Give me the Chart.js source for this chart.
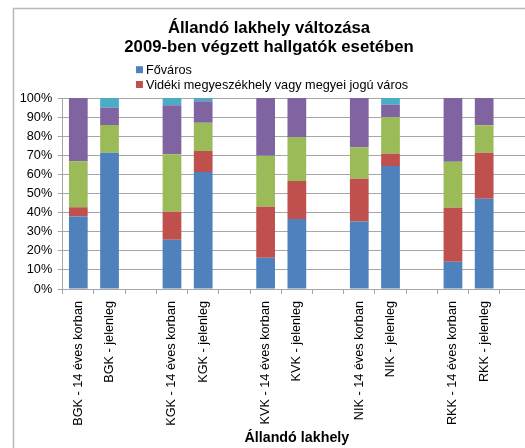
<!DOCTYPE html>
<html>
<head>
<meta charset="utf-8">
<script src="https://cdn.jsdelivr.net/npm/chart.js@4/dist/chart.umd.min.js"></script>
<style>
  html, body { margin: 0; padding: 0; background: #fff; overflow: hidden; }
  #wrap { position: relative; width: 545px; height: 448px; }
</style>
</head>
<body>
<div id="wrap"><canvas id="c" width="545" height="448"></canvas></div>
<script>
// ---- data ----
const categories = [
  'BGK - 14 éves korban', 'BGK - jelenleg', '',
  'KGK - 14 éves korban', 'KGK - jelenleg', '',
  'KVK - 14 éves korban', 'KVK - jelenleg', '',
  'NIK - 14 éves korban', 'NIK - jelenleg', '',
  'RKK - 14 éves korban', 'RKK - jelenleg', ''
];
const seriesNames = ['Főváros', 'Vidéki megyeszékhely vagy megyei jogú város', 'Egyéb város', 'Község', 'Külföld'];
const fovaros  = [38.0, 71.4, null, 25.8, 61.3, null, 16.4, 36.6, null, 35.4, 64.4, null, 14.3, 47.3, null];
const videki   = [ 4.8,  0.0, null, 14.7, 11.0, null, 26.7, 19.9, null, 22.3,  6.4, null, 28.3, 24.1, null];
const egyeb    = [24.1, 14.5, null, 30.0, 14.8, null, 26.7, 23.1, null, 16.5, 19.3, null, 24.0, 14.3, null];
const kozseg   = [33.1,  9.0, null, 25.7, 11.2, null, 30.2, 20.4, null, 25.8,  6.4, null, 33.4, 14.3, null];
const kulfold  = [ 0.0,  5.1, null,  3.8,  1.7, null,  0.0,  0.0, null,  0.0,  3.5, null,  0.0,  0.0, null];
const yTicks = [0, 10, 20, 30, 40, 50, 60, 70, 80, 90, 100];
const titleLines = ['Állandó lakhely változása', '2009-ben végzett hallgatók esetében'];
const xAxisTitle = 'Állandó lakhely';

const colors = ['#4F81BD', '#C0504D', '#9BBB59', '#8064A2', '#4BACC6'];
const seriesData = [fovaros, videki, egyeb, kozseg, kulfold];
const legendCount = 2; // only the first two legend entries are visible in the reference

const FONT = "'Liberation Sans', Arial, sans-serif";
const GRID = '#a6a6a6';

const framePlugin = {
  id: 'frame',
  beforeDraw(chart) {
    const ctx = chart.ctx;
    ctx.save();
    ctx.fillStyle = '#fff';
    ctx.fillRect(0, 0, chart.width, chart.height);
    ctx.strokeStyle = '#b8b8b8';
    ctx.lineWidth = 1.5;
    ctx.strokeRect(13.5, 8.5, chart.width + 50, chart.height + 50);
    ctx.restore();
  }
};

const legendPlugin = {
  id: 'stackLegend',
  afterDraw(chart) {
    const ctx = chart.ctx;
    const t = chart.titleBlock;
    ctx.save();
    ctx.font = '12.7px ' + FONT;
    ctx.textBaseline = 'middle';
    ctx.textAlign = 'left';
    const items = chart.data.datasets.slice(0, legendCount);
    const box = 7, gap = 3;
    let maxW = 0;
    items.forEach(d => { maxW = Math.max(maxW, ctx.measureText(d.label).width); });
    const blockW = box + gap + maxW;
    const cx = (t.left + t.right) / 2 + 3;
    const left = cx - blockW / 2;
    const rowTop = t.top + 69.7;
    const rowH = 14.8;
    items.forEach((d, i) => {
      const y = rowTop + i * rowH;
      ctx.fillStyle = d.backgroundColor;
      ctx.fillRect(left, y - box / 2, box, box);
      ctx.fillStyle = '#000';
      ctx.fillText(d.label, left + box + gap, y + 0.5);
    });
    ctx.restore();
  }
};

new Chart(document.getElementById('c'), {
  type: 'bar',
  data: {
    labels: categories,
    datasets: seriesData.map((arr, i) => ({
      label: seriesNames[i],
      data: arr,
      backgroundColor: colors[i],
      borderWidth: 0,
      categoryPercentage: 1.0,
      barPercentage: 0.6
    }))
  },
  options: {
    responsive: false,
    animation: false,
    layout: { padding: { left: 7, right: 14, top: 0, bottom: 0 } },
    plugins: {
      legend: { display: false },
      tooltip: { enabled: false },
      title: {
        display: true,
        text: titleLines,
        color: '#000',
        font: { family: FONT, size: 16.7, weight: 'bold', lineHeight: 1.15 },
        padding: { top: 18.4, bottom: 41.2 }
      }
    },
    scales: {
      x: {
        stacked: true,
        grid: { display: true, drawOnChartArea: false, drawTicks: true, tickLength: 5, offset: true, color: GRID },
        border: { display: true, color: GRID, width: 1 },
        ticks: {
          autoSkip: false, maxRotation: 90, minRotation: 90, padding: 7,
          color: '#000', font: { family: FONT, size: 12.7 }
        },
        title: {
          display: true, text: xAxisTitle, color: '#000',
          font: { family: FONT, size: 14.3, weight: 'bold', lineHeight: 1.2 },
          padding: { top: 0, bottom: 1 }
        },
        afterFit(scale) { scale.height = 159; }
      },
      y: {
        stacked: true,
        min: 0, max: 100,
        afterBuildTicks(scale) { scale.ticks = yTicks.map(v => ({ value: v })); },
        grid: { color: GRID, drawTicks: true, tickLength: 5 },
        border: { display: true, color: GRID, width: 1 },
        ticks: {
          padding: 5.5, color: '#000', font: { family: FONT, size: 12.7 },
          callback: v => v + '%'
        },
        afterFit(scale) { scale.width = 55.7; }
      }
    }
  },
  plugins: [framePlugin, legendPlugin]
});
</script>
</body>
</html>
